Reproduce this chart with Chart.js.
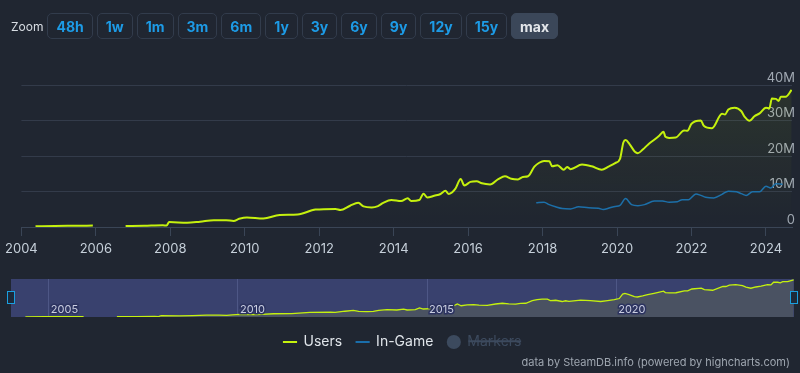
<!DOCTYPE html>
<html>
<head>
<meta charset="utf-8">
<script src="https://cdn.jsdelivr.net/npm/chart.js@4.4.1/dist/chart.umd.min.js"></script>
<style>
body{margin:0;background:#202631;width:800px;height:373px;overflow:hidden;font-family:Inter,sans-serif;position:relative}
#main{position:absolute;left:0;top:0}
#nav{position:absolute;left:0;top:270px}
.zoom{position:absolute;left:11px;top:13px;display:flex;align-items:center;gap:4px}
.zoom span{color:#d8dde3;font-size:12px;margin-right:0}
.zoom button{height:26px;padding:0 8px;border:1px solid #323c4c;border-radius:5px;background:transparent;color:#1d9be6;font:bold 14px Inter,sans-serif}
.zoom button.on{background:#3b4759;color:#e4e7eb;border-color:#3b4759}
.credits{position:absolute;right:10px;top:355px;font-size:11px;color:#9ea6b0}
</style>
</head>
<body>
<canvas id="main" width="800" height="270"></canvas>
<canvas id="nav" width="800" height="89"></canvas>
<div class="zoom">
  <span>Zoom</span>
  <button>48h</button><button>1w</button><button>1m</button><button>3m</button><button>6m</button>
  <button>1y</button><button>3y</button><button>6y</button><button>9y</button><button>12y</button>
  <button>15y</button><button class="on">max</button>
</div>
<div class="credits">data by SteamDB.info (powered by highcharts.com)</div>
<script>
// values in millions, x in decimal years
const usersX = [2004.38, 2004.9, 2005.4, 2005.92, 2006.3, 2006.8, 2007.3, 2007.8, 2007.9, 2007.97,
  2008.45, 2008.8, 2009.17, 2009.5, 2009.7, 2009.85, 2010.06, 2010.5, 2010.94, 2011.42, 2011.9,
  2012.44, 2012.57, 2012.83, 2013.05, 2013.19, 2013.41, 2013.58, 2013.72, 2013.94, 2014.2, 2014.38,
  2014.47, 2014.69, 2014.8, 2014.9, 2015.09, 2015.26, 2015.39, 2015.48, 2015.66, 2015.8, 2015.9,
  2016.06, 2016.23, 2016.37, 2016.59, 2016.81, 2016.99, 2017.16, 2017.34, 2017.47, 2017.61, 2017.78,
  2017.91, 2018.04, 2018.18, 2018.26, 2018.4, 2018.57, 2018.66, 2018.75, 2019.06, 2019.32, 2019.59,
  2019.77, 2019.95, 2020.08, 2020.17, 2020.23, 2020.34, 2020.48, 2020.56, 2020.7, 2020.83, 2021.0,
  2021.14, 2021.25, 2021.3, 2021.4, 2021.58, 2021.8, 2021.89, 2022.0, 2022.25, 2022.33, 2022.55,
  2022.82, 2022.9, 2022.99, 2023.16, 2023.34, 2023.43, 2023.56, 2023.69, 2023.83, 2024.0, 2024.09,
  2024.16, 2024.27, 2024.34, 2024.4, 2024.53, 2024.69];
const usersM = [0.2, 0.3, 0.35, 0.4, null, 0.25, 0.35, 0.5, 0.4, 1.4,
  1.2, 1.5, 1.9, 1.9, 1.7, 2.3, 2.7, 2.4, 3.4, 3.5, 4.9,
  5.1, 4.8, 6.0, 6.8, 5.8, 5.5, 5.9, 6.8, 7.6, 7.3, 8.1,
  7.3, 7.6, 9.4, 8.3, 8.8, 9.3, 10.2, 9.3, 10.8, 13.5, 11.7,
  12.7, 12.9, 12.3, 12.0, 13.5, 14.3, 13.6, 13.4, 14.1, 14.3, 17.0,
  18.1, 18.6, 18.5, 17.1, 17.4, 16.1, 16.9, 16.3, 17.6, 17.1, 16.1,
  17.0, 18.0, 19.2, 23.8, 24.5, 23.3, 21.2, 20.8, 21.9, 23.2, 24.6,
  25.8, 26.8, 25.4, 25.1, 25.2, 27.2, 27.1, 29.1, 30.0, 28.5, 27.8,
  31.9, 31.7, 33.1, 33.6, 32.6, 31.0, 29.9, 31.2, 32.0, 33.6, 33.4,
  36.2, 36.1, 35.5, 36.7, 36.7, 38.6];
const inGameX = [2017.83, 2018.04, 2018.18, 2018.35, 2018.53, 2018.75, 2018.97, 2019.24, 2019.5,
  2019.63, 2019.81, 2019.95, 2020.08, 2020.23, 2020.39, 2020.56, 2020.74, 2021.0, 2021.22, 2021.4,
  2021.62, 2021.75, 2021.92, 2022.12, 2022.25, 2022.38, 2022.6, 2022.82, 2022.99, 2023.21, 2023.34,
  2023.47, 2023.64, 2023.83, 2024.0, 2024.13, 2024.27, 2024.45];
const inGameM = [6.8, 7.0, 6.3, 5.7, 5.2, 5.1, 5.7, 5.4, 5.3,
  4.9, 5.4, 5.8, 6.1, 8.0, 6.3, 6.0, 6.3, 7.3, 7.3, 7.0,
  7.1, 7.7, 7.7, 9.3, 8.9, 8.4, 8.2, 9.2, 10.1, 9.9, 9.4,
  8.9, 9.9, 9.9, 11.5, 11.0, 12.2, 12.0];
const yTicks = [0, 10, 20, 30, 40];
const navYears = [2005, 2010, 2015, 2020];

const lime = '#c5f10e';
const blue = '#1a6eab';
Chart.defaults.font.family = 'Inter, sans-serif';

function pts(xs, ys) {
  return xs.map((x, i) => ({ x: x, y: ys[i] }));
}

const mainChart = new Chart(document.getElementById('main'), {
  type: 'line',
  data: {
    datasets: [{
      label: 'Users',
      data: pts(usersX, usersM),
      borderColor: lime,
      borderWidth: 2,
      pointRadius: 0,
      cubicInterpolationMode: 'monotone',
      fill: 'origin',
      backgroundColor: (c) => {
        const area = c.chart.chartArea;
        if (!area) return 'transparent';
        const g = c.chart.ctx.createLinearGradient(0, area.top, 0, area.bottom);
        g.addColorStop(0, 'rgba(197,241,14,0.07)');
        g.addColorStop(1, 'rgba(197,241,14,0)');
        return g;
      }
    }, {
      label: 'In-Game',
      data: pts(inGameX, inGameM),
      borderColor: blue,
      borderWidth: 1.5,
      pointRadius: 0,
      cubicInterpolationMode: 'monotone'
    }]
  },
  options: {
    responsive: false,
    animation: false,
    layout: { padding: { left: 11, right: 8, top: 85, bottom: 0 } },
    plugins: { legend: { display: false }, tooltip: { enabled: false } },
    scales: {
      x: {
        type: 'linear', min: 2004, max: 2024.7,
        afterFit: (s) => { s.height = 43; },
        grid: { drawOnChartArea: false, color: '#3a4556', tickLength: 9 },
        border: { color: '#3a4556' },
        ticks: { stepSize: 2, includeBounds: false, color: '#c6d0da', font: { size: 13 }, padding: 5,
                 maxRotation: 0, callback: (v) => String(v) }
      },
      y: {
        position: 'right', min: 0, max: 40,
        afterFit: (s) => { s.width = 0; },
        afterBuildTicks: (s) => { s.ticks = yTicks.map(v => ({ value: v })); },
        grid: { color: '#333b4a', drawTicks: false },
        border: { display: false },
        ticks: { mirror: true, crossAlign: 'near', padding: 3, labelOffset: -7, color: '#a0a8b2', font: { size: 13 },
                 callback: (v) => v === 0 ? '0' : v + 'M' }
      }
    }
  }
});

// navigator mask behind the series, handles on top
const navDecor = {
  id: 'navDecor',
  beforeDraw(chart) {
    const a = chart.chartArea, ctx = chart.ctx;
    ctx.save();
    ctx.fillStyle = '#39416e';
    ctx.fillRect(a.left, a.top, a.right - a.left, a.bottom - a.top);
    ctx.restore();
  },
  afterDraw(chart) {
    const a = chart.chartArea, ctx = chart.ctx;
    ctx.save();
    ctx.fillStyle = '#1d2a3a';
    ctx.strokeStyle = '#1a9fe0';
    ctx.lineWidth = 1;
    [a.left, a.right].forEach(x => {
      ctx.fillRect(x - 3.5, a.top + 12.5, 7, 12);
      ctx.strokeRect(x - 3.5, a.top + 12.5, 7, 12);
    });
    ctx.restore();
  }
};

const navChart = new Chart(document.getElementById('nav'), {
  type: 'line',
  data: {
    datasets: [{
      label: 'Users',
      data: pts(usersX, usersM),
      borderColor: lime,
      borderWidth: 1.3,
      pointRadius: 0,
      fill: 'origin',
      backgroundColor: '#4a5262'
    }]
  },
  options: {
    responsive: false,
    animation: false,
    layout: { padding: { left: 11, right: 6, top: 9, bottom: 0 } },
    plugins: {
      tooltip: { enabled: false },
      legend: {
        position: 'bottom',
        labels: {
          usePointStyle: true,
          boxHeight: 10,
          boxWidth: 13,
          padding: 14,
          font: { size: 14 },
          color: '#e0e5ea',
          generateLabels: () => [
            { text: 'Users', strokeStyle: lime, fillStyle: lime, lineWidth: 2, pointStyle: 'line', fontColor: '#e0e5ea', hidden: false, datasetIndex: 0 },
            { text: 'In-Game', strokeStyle: blue, fillStyle: blue, lineWidth: 2, pointStyle: 'line', fontColor: '#e0e5ea', hidden: false, datasetIndex: 1 },
            { text: 'Markers', strokeStyle: '#3c4a5e', fillStyle: '#3c4a5e', lineWidth: 0, pointStyle: 'circle', fontColor: '#3c4a5e', hidden: true, datasetIndex: 2 }
          ]
        }
      }
    },
    scales: {
      x: {
        type: 'linear', min: 2004, max: 2024.7,
        afterFit: (s) => { s.height = 4; },
        afterBuildTicks: (s) => { s.ticks = navYears.map(v => ({ value: v })); },
        grid: { color: '#4e5786', drawTicks: false },
        border: { display: false },
        ticks: { mirror: true, z: 1, align: 'start', padding: 1, labelOffset: 2, color: '#c9cde0', font: { size: 11 },
                 textStrokeColor: '#2c3360', textStrokeWidth: 3, maxRotation: 0,
                 callback: (v) => String(v) }
      },
      y: { display: false, min: 0, max: 39.5 }
    }
  },
  plugins: [navDecor]
});
</script>
</body>
</html>
